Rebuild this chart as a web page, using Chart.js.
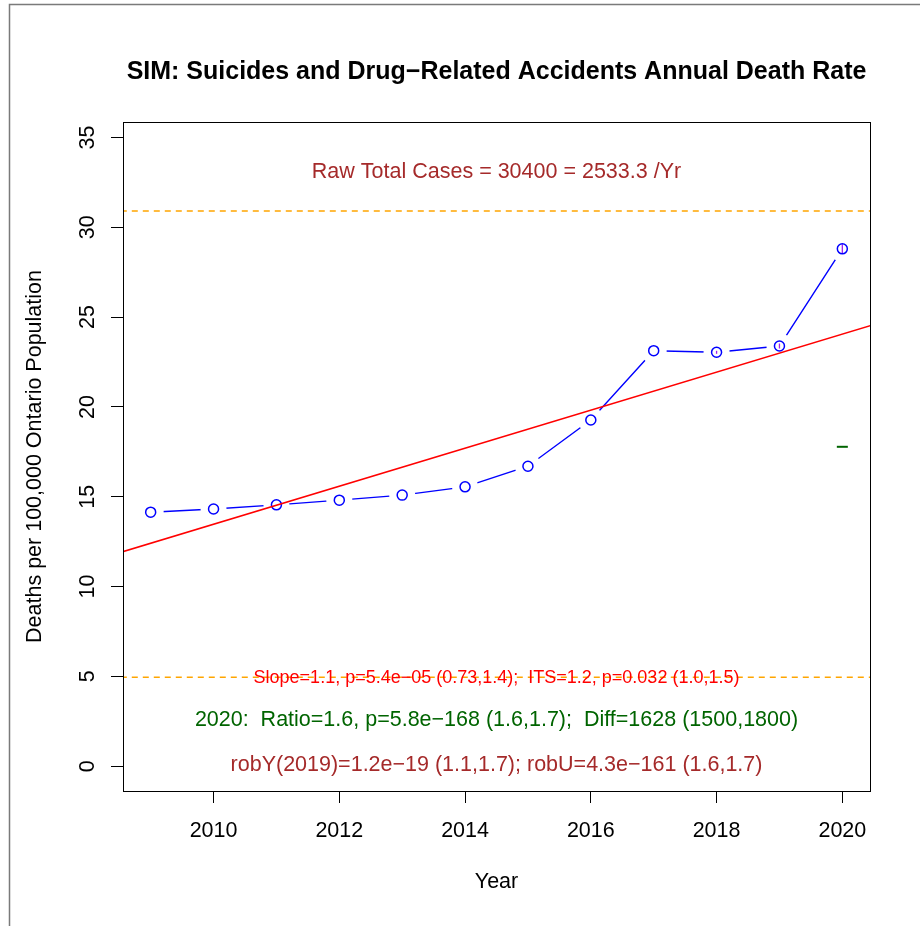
<!DOCTYPE html>
<html>
<head>
<meta charset="utf-8">
<script src="https://cdn.jsdelivr.net/npm/chart.js@4.4.0/dist/chart.umd.min.js"></script>
<style>
  html, body { margin: 0; padding: 0; background: #fff; }
  #wrap { width: 920px; height: 926px; }
</style>
</head>
<body>
<div id="wrap"><canvas id="rateChart" width="920" height="926"></canvas></div>
<script>
// annual death rate per 100,000
const years = [2009, 2010, 2011, 2012, 2013, 2014, 2015, 2016, 2017, 2018, 2019, 2020];
const deathRate = [14.14, 14.32, 14.55, 14.81, 15.09, 15.55, 16.70, 19.27, 23.13, 23.04, 23.39, 28.80];

// fitted trend line (abline), runs across the whole plot
const trendYears = [2008, 2021];
const trendRate = [11.35, 25.11];

// dashed orange reference levels
const refLevels = [30.9, 4.95];

// predicted 2020 value (green dash)
const predYears = [2020];
const predRate = [17.78];

// small purple interval marks inside the last circles
const ciYears = [2018, 2019, 2020];
const ciRate = [23.04, 23.39, 28.80];

const xTickValues = [2010, 2012, 2014, 2016, 2018, 2020];
const yTickValues = [0, 5, 10, 15, 20, 25, 30, 35];

const FONT = '"Liberation Sans", Arial, Helvetica, sans-serif';

const toPoints = (xs, ys) => xs.map((x, i) => ({ x: x, y: ys[i] }));

const refDatasets = refLevels.map(v => ({
  data: [{ x: trendYears[0], y: v }, { x: trendYears[1], y: v }],
  showLine: true,
  borderColor: '#FFA500',
  borderWidth: 1.5,
  borderDash: [6, 5],
  pointRadius: 0,
  clip: 0,
  order: 1
}));

// draws the frame, the y tick labels and all the text
const textPlugin = {
  id: 'rText',
  beforeDraw(chart) {
    const ctx = chart.ctx;
    ctx.save();
    ctx.fillStyle = '#fff';
    ctx.fillRect(0, 0, chart.width, chart.height);
    ctx.strokeStyle = '#7a7a7a';
    ctx.lineWidth = 1.5;
    ctx.beginPath();
    ctx.moveTo(9.5, chart.height);
    ctx.lineTo(9.5, 4.5);
    ctx.lineTo(chart.width, 4.5);
    ctx.stroke();
    ctx.restore();
  },
  afterDraw(chart) {
    const ctx = chart.ctx;
    const a = chart.chartArea;
    const ys = chart.scales.y;
    const cx = (a.left + a.right) / 2;
    ctx.save();
    ctx.strokeStyle = '#000';
    ctx.lineWidth = 1;
    ctx.strokeRect(Math.round(a.left) + 0.5, Math.round(a.top) + 0.5,
      Math.round(a.right - a.left), Math.round(a.bottom - a.top));

    ctx.textAlign = 'center';
    ctx.textBaseline = 'middle';

    ctx.fillStyle = '#000';
    ctx.font = 'bold 25px ' + FONT;
    ctx.fillText('SIM: Suicides and Drug\u2212Related Accidents Annual Death Rate', cx, 72);

    ctx.font = '21.5px ' + FONT;
    ctx.fillText('Year', cx, 882);

    // y tick labels, rotated like R's las=0
    yTickValues.forEach(v => {
      ctx.save();
      ctx.translate(88, ys.getPixelForValue(v));
      ctx.rotate(-Math.PI / 2);
      ctx.fillText(String(v), 0, 0);
      ctx.restore();
    });

    ctx.save();
    ctx.translate(35, (a.top + a.bottom) / 2);
    ctx.rotate(-Math.PI / 2);
    ctx.fillText('Deaths per 100,000 Ontario Population', 0, 0);
    ctx.restore();

    ctx.fillStyle = '#A52A2A';
    ctx.fillText('Raw Total Cases = 30400 = 2533.3 /Yr', cx, 172);

    ctx.fillStyle = '#FF0000';
    ctx.font = '18px ' + FONT;
    ctx.fillText('Slope=1.1, p=5.4e\u221205 (0.73,1.4);  ITS=1.2, p=0.032 (1.0,1.5)', cx, 678);

    ctx.font = '21.5px ' + FONT;
    ctx.fillStyle = '#006400';
    ctx.fillText('2020:  Ratio=1.6, p=5.8e\u2212168 (1.6,1.7);  Diff=1628 (1500,1800)', cx, 720);

    ctx.fillStyle = '#A52A2A';
    ctx.fillText('robY(2019)=1.2e\u221219 (1.1,1.7); robU=4.3e\u2212161 (1.6,1.7)', cx, 765);
    ctx.restore();
  }
};

new Chart(document.getElementById('rateChart'), {
  type: 'scatter',
  data: {
    datasets: [
      {
        // connecting line
        data: toPoints(years, deathRate),
        showLine: true,
        borderColor: '#0000FF',
        borderWidth: 1.4,
        pointRadius: 0,
        order: 7
      },
      {
        // white gaps around the points (type = "b")
        data: toPoints(years, deathRate),
        showLine: false,
        pointRadius: 13,
        pointBackgroundColor: '#fff',
        pointBorderWidth: 0,
        pointBorderColor: '#fff',
        order: 6
      },
      {
        data: toPoints(ciYears, ciRate),
        showLine: false,
        pointStyle: 'line',
        rotation: 90,
        pointRadius: [1.5, 2.5, 4.5],
        pointBorderColor: '#A020F0',
        pointBorderWidth: 1.3,
        order: 5
      },
      {
        data: toPoints(years, deathRate),
        showLine: false,
        pointRadius: 5,
        pointBackgroundColor: 'rgba(0,0,0,0)',
        pointBorderColor: '#0000FF',
        pointBorderWidth: 1.5,
        order: 4
      },
      {
        data: toPoints(trendYears, trendRate),
        showLine: true,
        borderColor: '#FF0000',
        borderWidth: 1.6,
        pointRadius: 0,
        clip: 0,
        order: 3
      },
      {
        data: toPoints(predYears, predRate),
        showLine: false,
        pointStyle: 'line',
        pointRadius: 5.5,
        pointBorderColor: '#006400',
        pointBorderWidth: 2,
        order: 2
      },
      ...refDatasets
    ]
  },
  options: {
    responsive: false,
    animation: false,
    events: [],
    layout: { padding: { left: 0, right: 50, top: 122, bottom: 0 } },
    plugins: {
      legend: { display: false },
      tooltip: { enabled: false },
      title: { display: false }
    },
    scales: {
      x: {
        type: 'linear',
        min: 2008.56,
        max: 2020.44,
        afterBuildTicks: s => { s.ticks = xTickValues.map(v => ({ value: v })); },
        afterFit: s => { s.height = 135; },
        border: { display: false },
        grid: { drawOnChartArea: false, drawTicks: true, tickLength: 12, color: '#000', lineWidth: 1 },
        ticks: {
          color: '#000',
          font: { family: FONT, size: 21.5 },
          padding: 15,
          maxRotation: 0,
          callback: v => String(v)
        }
      },
      y: {
        type: 'linear',
        min: -1.38,
        max: 35.86,
        afterBuildTicks: s => { s.ticks = yTickValues.map(v => ({ value: v })); },
        afterFit: s => { s.width = 123; },
        border: { display: false },
        grid: { drawOnChartArea: false, drawTicks: true, tickLength: 12, color: '#000', lineWidth: 1 },
        ticks: { display: false }
      }
    }
  },
  plugins: [textPlugin]
});
</script>
</body>
</html>
